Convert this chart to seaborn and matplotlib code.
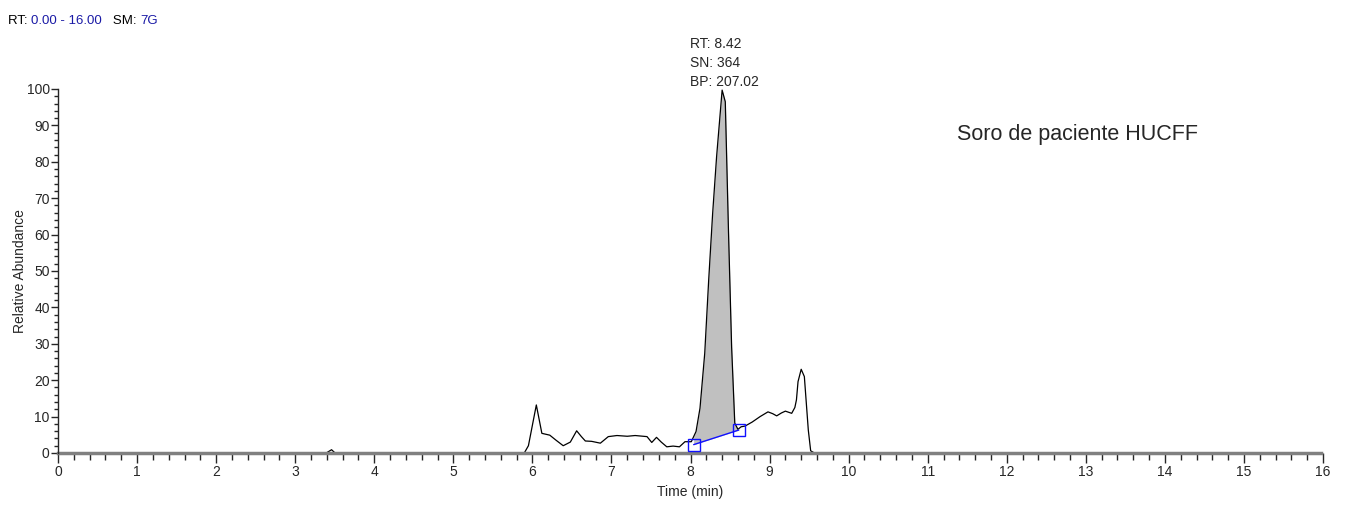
import matplotlib
matplotlib.use("Agg")
import matplotlib.pyplot as plt
import seaborn as sns
import numpy as np
import pandas as pd
from matplotlib.ticker import MultipleLocator

# chromatogram trace (time in min, relative abundance)
time = [0.00, 3.40, 3.46, 3.50, 3.56, 5.90, 5.95, 6.05, 6.12, 6.22, 6.30, 6.39,
        6.48, 6.56, 6.62, 6.67, 6.75, 6.86, 6.96, 7.07, 7.20, 7.30, 7.45, 7.51,
        7.57, 7.63, 7.70, 7.78, 7.86, 7.93, 8.01, 8.07, 8.12, 8.18, 8.23, 8.28,
        8.33, 8.40, 8.44, 8.48, 8.52, 8.56, 8.60, 8.64, 8.69, 8.78, 8.88, 8.98,
        9.04, 9.09, 9.15, 9.20, 9.28, 9.32, 9.34, 9.36, 9.40, 9.44, 9.49, 9.52,
        9.56, 15.97]
abundance = [0.1, 0.1, 0.9, 0.1, 0.1, 0.1, 2.0, 13.2, 5.4, 4.9, 3.5, 2.0,
             3.0, 6.1, 4.5, 3.3, 3.2, 2.7, 4.5, 4.8, 4.6, 4.8, 4.5, 2.9,
             4.3, 3.0, 1.7, 1.9, 1.7, 3.1, 3.1, 5.9, 12.3, 27.4, 47.5, 65.8,
             81.4, 99.7, 96.5, 61.3, 29.2, 8.2, 6.5, 7.2, 7.4, 8.5, 10.0, 11.3,
             10.8, 10.2, 11.0, 11.5, 10.9, 12.5, 14.6, 19.6, 23.0, 21.0, 6.3, 0.6,
             0.1, 0.1]

# integration limits of the labelled peak
peak_start = (8.04, 2.3)
peak_end = (8.61, 6.3)

header_parts = [("RT: ", "black"), ("0.00 - 16.00", "#1a1aa6"),
                ("   SM: ", "black"), ("7G", "#1a1aa6")]
peak_label = "RT: 8.42\nSN: 364\nBP: 207.02"
sample_title = "Soro de paciente HUCFF"

sns.set_style("ticks")
plt.rcParams["font.family"] = ["Liberation Sans", "DejaVu Sans"]

df = pd.DataFrame({"time": time, "abundance": abundance})

fig = plt.figure(figsize=(13.45, 5.09), dpi=100)
ax = fig.add_axes([58 / 1345, 1 - 453 / 509, (1323 - 58) / 1345, (453 - 89) / 509])

# shaded peak area between trace and integration baseline
t = np.array(time)
a = np.array(abundance)
mask = (t > peak_start[0]) & (t < peak_end[0])
ft = np.concatenate([[peak_start[0]], t[mask], [peak_end[0]]])
fa = np.interp(ft, t, a)
fb = np.interp(ft, [peak_start[0], peak_end[0]], [peak_start[1], peak_end[1]])
ax.fill_between(ft, fb, fa, color="#c0c0c0", lw=0, zorder=1)

sns.lineplot(data=df, x="time", y="abundance", color="black", lw=0.9, ax=ax,
             zorder=3, estimator=None, sort=False)

ax.plot([peak_start[0], peak_end[0]], [peak_start[1], peak_end[1]],
        color="#1010ff", lw=1.0, zorder=4)
ax.plot([peak_start[0], peak_end[0]], [peak_start[1], peak_end[1]], ls="none",
        marker="s", ms=8, mfc="none", mec="#1010ff", mew=1.0, zorder=5,
        clip_on=False)

ax.set_xlim(0, 16)
ax.set_ylim(0, 100)
ax.xaxis.set_major_locator(MultipleLocator(1))
ax.xaxis.set_minor_locator(MultipleLocator(0.2))
ax.yaxis.set_major_locator(MultipleLocator(10))
ax.yaxis.set_minor_locator(MultipleLocator(2))
ax.tick_params(axis="x", which="major", length=7, width=1, labelsize=10, pad=2)
ax.tick_params(axis="x", which="minor", length=5, width=1)
ax.tick_params(axis="y", which="major", length=5, width=1, labelsize=10, pad=1)
ax.tick_params(axis="y", which="minor", length=3, width=1)

sns.despine(ax=ax)
ax.spines["bottom"].set_color("#808080")
ax.spines["bottom"].set_linewidth(2.5)
ax.spines["bottom"].set_bounds(0, 15.97)
ax.spines["bottom"].set_zorder(4)
ax.spines["left"].set_linewidth(1)
ax.spines["left"].set_zorder(6)

ax.set_xlabel("Time (min)", fontsize=10, labelpad=4)
ax.set_ylabel("Relative Abundance", fontsize=10, labelpad=0)

# peak annotation above the apex
ax.text(8.42 - 0.42, 100, peak_label, fontsize=10, ha="left", va="bottom",
        linespacing=1.45)
ax.text(12.89, 87.4, sample_title, fontsize=15.5, ha="center", va="center")

# header in the top-left corner
x0 = 8
for text, color in header_parts:
    txt = fig.text(x0 / 1345, 1 - 21 / 509, text, fontsize=9.5, color=color,
                   va="center", ha="left")
    fig.canvas.draw()
    x0 += txt.get_window_extent().width

fig.savefig("out.png", dpi=100)
plt.close(fig)
